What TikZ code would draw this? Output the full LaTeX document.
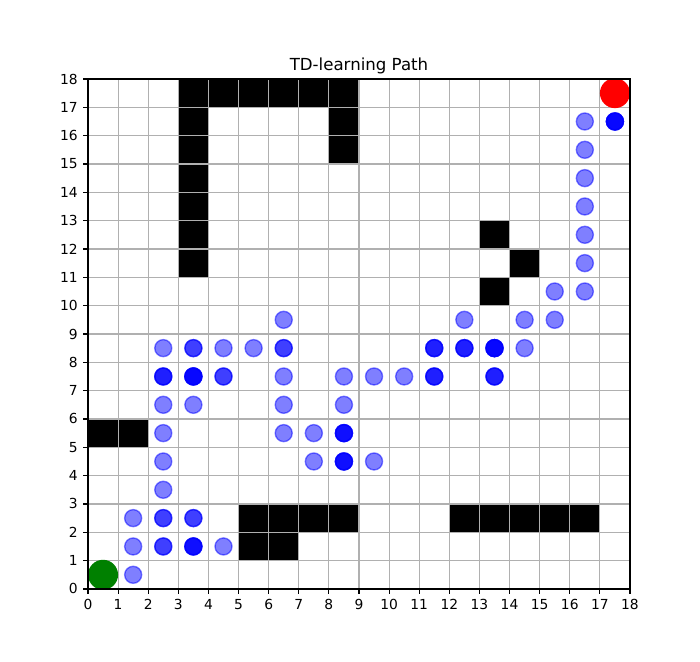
\documentclass[tikz,border=0pt]{standalone}
\usepackage{fontspec}
\setmainfont{DejaVu Sans}
\usetikzlibrary{math}
\definecolor{gridgray}{HTML}{B0B0B0}
\definecolor{startgreen}{HTML}{008000}
\definecolor{goalred}{HTML}{FF0000}

\begin{document}
\begin{tikzpicture}[x=0.30111in, y=0.28333in,
  wall/.style={fill=black},
  visit/.style={fill=blue, draw=blue, fill opacity=0.5, draw opacity=0.5, line width=1pt},
  ticklbl/.style={inner sep=0pt, font=\fontsize{10}{12}\selectfont}]
\tikzmath{
\N=18;%grid size
\r=0.085;%dot radius (in)
\R=0.15;%start/goal radius (in)
}
\useasboundingbox (-2.9225,-2.5765) rectangle (20.325,20.788);

% walls
\foreach \x/\y in {3/17,4/17,5/17,6/17,7/17,8/17,3/16,3/15,3/14,3/13,3/12,3/11,8/16,8/15,
  13/12,14/11,13/10,0/5,1/5,5/2,6/2,7/2,8/2,5/1,6/1,12/2,13/2,14/2,15/2,16/2}
  \fill[wall] (\x,\y) rectangle ++(1,1);

\foreach \i in {1,...,17}{
  \draw[color=gridgray, line width=0.8pt] (\i,0) -- (\i,\N);
  \draw[color=gridgray, line width=0.8pt] (0,\i) -- (\N,\i);
}

% visited states (x/y/times)
\foreach \x/\y/\n in {1/0/1,1/1/1,2/1/2,3/1/4,4/1/1,1/2/1,2/2/2,3/2/2,2/3/1,
  2/4/1,7/4/1,8/4/4,9/4/1,2/5/1,6/5/1,7/5/1,8/5/4,2/6/1,3/6/1,6/6/1,8/6/1,
  2/7/3,3/7/5,4/7/2,6/7/1,8/7/1,9/7/1,10/7/1,11/7/3,13/7/3,
  2/8/1,3/8/2,4/8/1,5/8/1,6/8/2,11/8/3,12/8/3,13/8/5,14/8/1,
  6/9/1,12/9/1,14/9/1,15/9/1,15/10/1,16/10/1,
  16/11/1,16/12/1,16/13/1,16/14/1,16/15/1,16/16/1,17/16/5}
  \foreach \k in {1,...,\n}
    \path[visit] (\x+0.5,\y+0.5) circle[radius=\r in];

\fill[startgreen] (0.5,0.5) circle[radius=\R in];
\fill[goalred] (17.5,17.5) circle[radius=\R in];

% axes
\draw[line width=0.8pt] (0,0) rectangle (\N,\N);
\foreach \i in {0,...,18}{
  \draw[line width=0.8pt] (\i,0) -- ++(0,-3.5pt) node[ticklbl, below=3.5pt] (xt\i) {\i};
  \draw[line width=0.8pt] (0,\i) -- ++(-3.5pt,0) node[ticklbl, left=3.5pt] (yt\i) {\i};
}
\node[anchor=base, inner sep=0pt, yshift=6pt, font=\fontsize{12}{14}\selectfont] (title) at (9,\N) {TD-learning Path};
\end{tikzpicture}
\end{document}
